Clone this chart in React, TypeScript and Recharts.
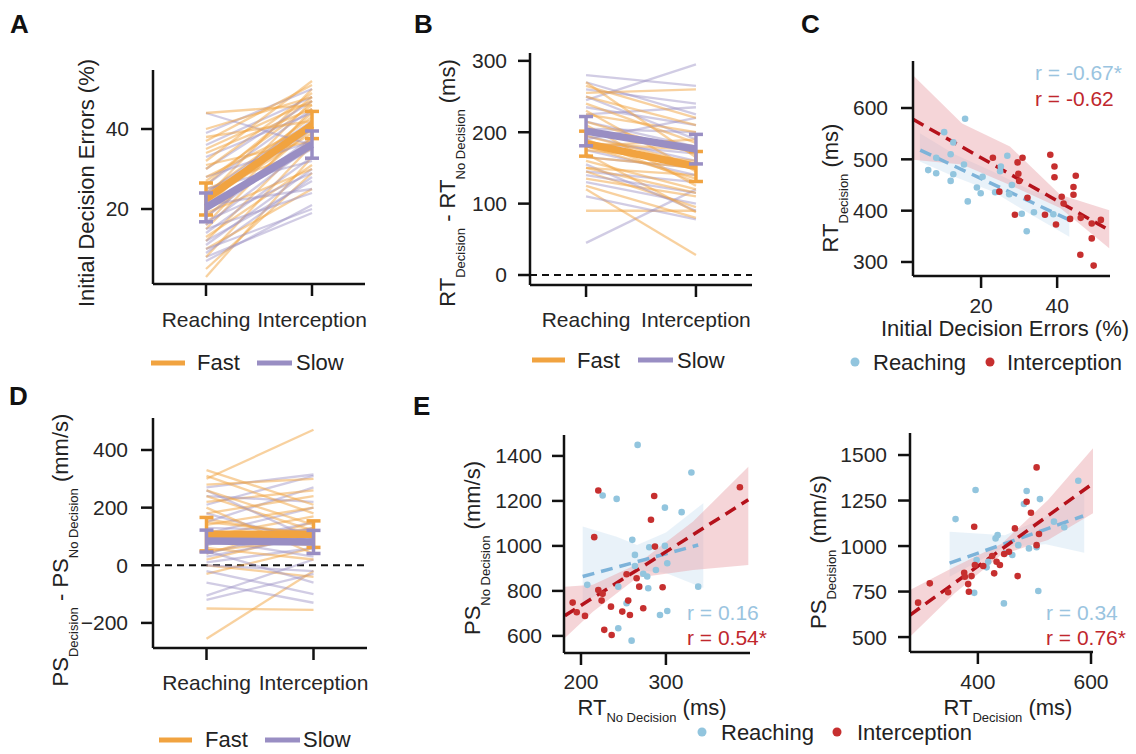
import React from 'react';
import { ComposedChart, Line, XAxis, YAxis, ErrorBar, Scatter, Area, ReferenceLine } from 'recharts';

const FONT = '"Liberation Sans", Arial, Helvetica, sans-serif';
const ORANGE = '#f1a340';
const PURPLE = '#998ec3';
const BLUE_DOT = '#92c5de';
const RED_DOT = '#c62f2f';
const BLUE_LINE = '#7db3d9';
const RED_LINE = '#b5121b';
const TXT = '#222222';

const groups = ['Reaching', 'Interception'];

// ---------- Panel A: initial decision errors (%) ----------
const aFastReach = [3, 5, 8, 10, 12, 13, 15, 16, 18, 19, 20, 21, 22, 23, 24, 25, 26, 27, 28, 30, 31, 32, 34, 35, 37, 38, 40, 44];
const aFastInter = [33, 29, 36, 25, 38, 31, 42, 45, 40, 30, 47, 44, 39, 50, 43, 35, 48, 46, 41, 49, 37, 52, 45, 47, 51, 42, 48, 46];
const aSlowReach = [7, 8, 9, 10, 11, 12, 14, 15, 16, 17, 18, 20, 21, 22, 24, 25, 26, 28, 30, 33, 36, 39, 44];
const aSlowInter = [21, 19, 28, 20, 30, 27, 33, 24, 36, 29, 38, 35, 25, 40, 42, 32, 45, 37, 47, 44, 48, 50, 36];
const aFastMean = [22.5, 41];
const aFastErr = [4, 3.4];
const aSlowMean = [20.4, 36.1];
const aSlowErr = [3.6, 3.4];

// ---------- Panel B: RT decision - RT no decision (ms) ----------
const bFastReach = [90, 120, 125, 135, 145, 150, 160, 165, 170, 175, 180, 185, 190, 195, 200, 210, 215, 225, 230, 240, 250, 255, 265, 270, 150, 180];
const bFastInter = [90, 28, 80, 110, 95, 140, 120, 150, 88, 160, 135, 175, 130, 155, 180, 125, 170, 200, 145, 185, 210, 260, 220, 165, 115, 190];
const bSlowReach = [45, 110, 130, 145, 155, 165, 175, 185, 195, 205, 215, 225, 235, 245, 250, 260, 270, 280, 140, 190];
const bSlowInter = [120, 78, 100, 130, 90, 150, 140, 170, 160, 200, 180, 235, 210, 295, 190, 240, 225, 265, 115, 220];
const bFastMean = [184, 152];
const bFastErr = [17.5, 21];
const bSlowMean = [201.5, 176.3];
const bSlowErr = [20.5, 20.7];

// ---------- Panel D: PS decision - PS no decision (mm/s) ----------
const dFastReach = [-255, -150, -30, 0, 20, 40, 60, 80, 100, 120, 140, 160, 180, 200, 220, 240, 260, 280, 300, 310, 330, 50, 90, 150];
const dFastInter = [-20, -155, 60, -40, 110, 150, 20, 130, 170, 80, 200, 100, 240, 40, 260, 120, 140, 300, 470, 180, 210, 90, 70, 110];
const dSlowReach = [-120, -105, -60, -20, 10, 30, 50, 70, 90, 110, 130, 150, 180, 210, 240, 260, 270, 0, 40];
const dSlowInter = [-30, 20, -130, -100, 60, 100, -60, 150, 30, 200, 120, 270, 80, 310, 220, 90, 315, -20, 130];
const dFastMean = [108, 108];
const dFastErr = [58, 46];
const dSlowMean = [84, 81];
const dSlowErr = [38, 40];

// ---------- Panel C: RT decision vs initial decision errors ----------
const cBlueX = [6.1, 8.2, 8.2, 10.3, 12.0, 12.7, 12.0, 12.7, 15.8, 15.5, 16.5, 18.9, 19.9, 20.4, 23.7, 25.0, 25.2, 26.9, 27.4, 28.1, 30.7, 32.0, 33.9, 39.0];
const cBlueY = [479, 473, 503, 553, 510, 471, 458, 533, 579, 490, 418, 445, 434, 466, 436, 477, 486, 507, 432, 450, 394, 360, 397, 393];
const cRedX = [23.1, 24.8, 29.6, 30.9, 29.8, 30.0, 28.9, 32.2, 36.8, 38.2, 39.3, 39.3, 39.7, 41.2, 41.7, 43.4, 44.9, 44.3, 44.3, 46.2, 46.1, 49.1, 49.1, 49.6, 51.5];
const cRedY = [503, 437, 494, 503, 472, 458, 392, 425, 392, 509, 486, 465, 373, 427, 414, 384, 468, 446, 431, 386, 314, 375, 346, 293, 382];
const cBlueBandX = [3.9, 13, 23.2, 33, 43.2];
const cBlueBandLo = [496, 466, 437, 393, 349];
const cBlueBandHi = [551, 510, 476, 440, 421];
const cRedBandX = [2.1, 15, 27.6, 40.8, 53.7];
const cRedBandLo = [499, 490, 450, 405, 327];
const cRedBandHi = [664, 570, 525, 431, 401];
const cBlueFitX = [4, 43.2];
const cBlueFitY = [518, 382];
const cRedFitX = [2.1, 53.7];
const cRedFitY = [578, 362];

// ---------- Panel E left: PS no decision vs RT no decision ----------
const eLBlueX = [266.7, 330, 225.5, 242, 298.8, 318.5, 260.4, 263.5, 280.4, 298.8, 301.6, 278, 273.3, 279.2, 207.4, 243.9, 253.7, 293, 301.6, 338, 243.9, 259.6, 263.5, 288.2];
const eLBlueY = [1449, 1326, 1224, 1209, 1170, 1150, 1027, 960, 994, 1000, 923, 864, 876, 812, 827, 819, 745, 693, 711, 819, 634, 579, 911, 893];
const eLRedX = [220.4, 215.6, 286.2, 282.4, 287.1, 190.2, 195, 204.7, 220.4, 224.3, 225.5, 235.3, 248.6, 257.6, 255.6, 268.6, 265.5, 273.3, 296.1, 253.7, 227.4, 236.1, 387.1];
const eLRedY = [1246, 1039, 1222, 1116, 997, 748, 705, 689, 804, 757, 787, 730, 708, 693, 757, 819, 856, 723, 816, 874, 627, 604, 1261];
const eLBlueBandX = [202, 242, 266, 300, 344];
const eLBlueBandLo = [745, 834, 893, 880, 813];
const eLBlueBandHi = [1086, 1041, 1004, 1060, 1190];
const eLRedBandX = [181, 214, 266, 332, 397];
const eLRedBandLo = [591, 707, 858, 893, 915];
const eLRedBandHi = [819, 827, 918, 1108, 1352];
const eLBlueFitX = [202, 338];
const eLBlueFitY = [864, 1004];
const eLRedFitX = [181, 397];
const eLRedFitY = [690, 1205];

// ---------- Panel E right: PS decision vs RT decision ----------
const eRBlueX = [360.5, 395.9, 393.5, 446, 397.7, 415.4, 431.3, 434.9, 447.8, 460.8, 471.4, 481.4, 486.2, 490.3, 503.8, 509.7, 506.8, 534.5, 552.7, 577.5, 418.2];
const eRBlueY = [1148, 1308, 743, 685, 923, 883, 1042, 1060, 960, 951, 1005, 1231, 1302, 987, 993, 1258, 753, 1134, 1103, 1359, 914];
const eRRedX = [294.3, 315, 347.4, 375.8, 376.9, 382.8, 384.1, 388.8, 393.5, 409.4, 425.3, 428.8, 433, 438.9, 446.5, 454.9, 465.5, 470.3, 486.2, 493.8, 503.8, 508, 503.8, 394.7];
const eRRedY = [689, 795, 746, 853, 831, 791, 749, 835, 1106, 890, 945, 850, 914, 896, 956, 969, 1097, 835, 1243, 1183, 1005, 1066, 1432, 896];
const eRBlueBandX = [350, 448, 520, 588];
const eRBlueBandLo = [831, 996, 1010, 963];
const eRBlueBandHi = [1079, 1060, 1160, 1298];
const eRRedBandX = [280, 359, 442, 524, 603.5];
const eRRedBandLo = [502, 741, 953, 1033, 1180];
const eRRedBandHi = [758, 886, 1013, 1253, 1537];
const eRBlueFitX = [350, 586];
const eRBlueFitY = [906, 1165];
const eRRedFitX = [280, 603.5];
const eRRedFitY = [621, 1344];

// ---------- shared styling ----------
const PL = 110, PT = 20, PR = 24, PB = 70;
const axisLine = { stroke: '#111', strokeWidth: 2.5 };
const tickLine = { stroke: '#111', strokeWidth: 2.5 };
const tickStyle = { fill: '#262626', fontSize: 21, fontFamily: FONT };
const minusFmt = (v: number) => (v < 0 ? '\u2212' + Math.abs(v) : String(v));

type Box = { x0: number; y0: number; x1: number; y1: number };

function Spaghetti(props: any) {
  const { box, xDomain, yDomain, yTicks, fR, fI, sR, sI, fM, fE, sM, sE, zero, xtm, ytm } = props;
  const rows = [0, 1].map((i) => {
    const r: any = { x: i };
    fR.forEach((v: number, k: number) => { r['f' + k] = i === 0 ? v : fI[k]; });
    sR.forEach((v: number, k: number) => { r['s' + k] = i === 0 ? v : sI[k]; });
    r.fm = fM[i]; r.fe = fE[i]; r.sm = sM[i]; r.se = sE[i];
    return r;
  });
  const n = Math.max(fR.length, sR.length);
  const lines: any[] = [];
  for (let k = 0; k < n; k++) {
    if (k < fR.length) lines.push(<Line key={'f' + k} dataKey={'f' + k} stroke={ORANGE} strokeOpacity={0.5} strokeWidth={2.3} dot={false} activeDot={false} isAnimationActive={false} />);
    if (k < sR.length) lines.push(<Line key={'s' + k} dataKey={'s' + k} stroke={PURPLE} strokeOpacity={0.45} strokeWidth={2.3} dot={false} activeDot={false} isAnimationActive={false} />);
  }
  const b: Box = box;
  return (
    <div style={{ position: 'absolute', left: b.x0 - PL, top: b.y0 - PT }}>
      <ComposedChart width={b.x1 - b.x0 + PL + PR} height={b.y1 - b.y0 + PT + PB} data={rows} margin={{ top: PT, right: PR, left: 0, bottom: 0 }}>
        <XAxis type="number" dataKey="x" domain={xDomain} ticks={[0, 1]} tickFormatter={(v: number) => groups[v]} interval={0} allowDataOverflow height={PB} axisLine={axisLine} tickLine={tickLine} tickSize={12} tickMargin={xtm} tick={tickStyle} />
        <YAxis type="number" domain={yDomain} ticks={yTicks} interval={0} allowDataOverflow width={PL} axisLine={axisLine} tickLine={tickLine} tickSize={12} tickMargin={ytm} tick={tickStyle} tickFormatter={minusFmt} />
        {zero ? <ReferenceLine y={0} stroke="#111" strokeWidth={2} strokeDasharray="7 5" /> : null}
        {lines}
        <Line dataKey="fm" stroke={ORANGE} strokeWidth={7.5} dot={false} activeDot={false} isAnimationActive={false}>
          <ErrorBar dataKey="fe" width={7} strokeWidth={3.5} stroke={ORANGE} direction="y" />
        </Line>
        <Line dataKey="sm" stroke={PURPLE} strokeWidth={7.5} dot={false} activeDot={false} isAnimationActive={false}>
          <ErrorBar dataKey="se" width={7} strokeWidth={3.5} stroke={PURPLE} direction="y" />
        </Line>
      </ComposedChart>
    </div>
  );
}

const dotShape = (c: string) => (p: any) => <circle cx={p.cx} cy={p.cy} r={3.3} fill={c} />;
const pts = (xs: number[], ys: number[]) => xs.map((x, i) => ({ x, y: ys[i] }));
const band = (xs: number[], lo: number[], hi: number[]) => xs.map((x, i) => ({ x, band: [lo[i], hi[i]] }));

function RegPanel(props: any) {
  const { box, xDomain, yDomain, xTicks, yTicks, bX, bY, rX, rY, bBX, bBL, bBH, rBX, rBL, rBH, bFX, bFY, rFX, rFY, xtm, ytm } = props;
  const b: Box = box;
  return (
    <div style={{ position: 'absolute', left: b.x0 - PL, top: b.y0 - PT }}>
      <ComposedChart width={b.x1 - b.x0 + PL + PR} height={b.y1 - b.y0 + PT + PB} margin={{ top: PT, right: PR, left: 0, bottom: 0 }}>
        <XAxis type="number" dataKey="x" domain={xDomain} ticks={xTicks} interval={0} allowDataOverflow height={PB} axisLine={axisLine} tickLine={tickLine} tickSize={12} tickMargin={xtm} tick={tickStyle} />
        <YAxis type="number" dataKey="y" domain={yDomain} ticks={yTicks} interval={0} allowDataOverflow width={PL} axisLine={axisLine} tickLine={tickLine} tickSize={12} tickMargin={ytm} tick={tickStyle} />
        <Scatter data={pts(bX, bY)} fill={BLUE_DOT} shape={dotShape(BLUE_DOT)} isAnimationActive={false} />
        <Area data={band(bBX, bBL, bBH)} dataKey="band" type="linear" stroke="none" fill="#cfe2f2" fillOpacity={0.45} isAnimationActive={false} />
        <Line data={pts(bFX, bFY)} dataKey="y" stroke={BLUE_LINE} strokeWidth={3.5} strokeDasharray="12 7" dot={false} activeDot={false} isAnimationActive={false} />
        <Scatter data={pts(rX, rY)} fill={RED_DOT} shape={dotShape(RED_DOT)} isAnimationActive={false} />
        <Area data={band(rBX, rBL, rBH)} dataKey="band" type="linear" stroke="none" fill="#e8a2a8" fillOpacity={0.45} isAnimationActive={false} />
        <Line data={pts(rFX, rFY)} dataKey="y" stroke={RED_LINE} strokeWidth={3.5} strokeDasharray="12 7" dot={false} activeDot={false} isAnimationActive={false} />
      </ComposedChart>
    </div>
  );
}

function VLabel({ bx, cy, parts }: { bx: number; cy: number; parts: [string, boolean][] }) {
  return (
    <text transform={`translate(${bx},${cy}) rotate(-90)`} textAnchor="middle" fontFamily={FONT} fontSize={22} fill={TXT} style={{ whiteSpace: 'pre' }}>
      {parts.map(([s, sub], i) => (
        <tspan key={i} fontSize={sub ? 13 : 22} dy={sub ? 10 : i > 0 && parts[i - 1][1] ? -10 : 0}>{s}</tspan>
      ))}
    </text>
  );
}

function HLabel({ cx, by, parts }: { cx: number; by: number; parts: [string, boolean][] }) {
  return (
    <text x={cx} y={by} textAnchor="middle" fontFamily={FONT} fontSize={22} fill={TXT} style={{ whiteSpace: 'pre' }}>
      {parts.map(([s, sub], i) => (
        <tspan key={i} fontSize={sub ? 13 : 22} dy={sub ? 7 : i > 0 && parts[i - 1][1] ? -7 : 0}>{s}</tspan>
      ))}
    </text>
  );
}

const T = ({ x, y, children, size = 22, fill = TXT, weight = 'normal' }: any) => (
  <text x={x} y={y} fontSize={size} fontFamily={FONT} fill={fill} fontWeight={weight} style={{ whiteSpace: 'pre' }}>{children}</text>
);

function LineLegend({ x1, x2, x3, x4, tf, ts, y, by }: any) {
  return (
    <g>
      <line x1={x1} x2={x2} y1={y} y2={y} stroke={ORANGE} strokeWidth={5} />
      <T x={tf} y={by}>Fast</T>
      <line x1={x3} x2={x4} y1={y} y2={y} stroke={PURPLE} strokeWidth={5} />
      <T x={ts} y={by}>Slow</T>
    </g>
  );
}

function DotLegend({ bx, tb, rx, tr, y, by }: any) {
  return (
    <g>
      <circle cx={bx} cy={y} r={4.5} fill={BLUE_DOT} />
      <T x={tb} y={by}>Reaching</T>
      <circle cx={rx} cy={y} r={4.5} fill={RED_DOT} />
      <T x={tr} y={by}>Interception</T>
    </g>
  );
}

export default function App() {
  return (
    <div style={{ position: 'absolute', left: 0, top: 0, width: 1136, height: 754, background: '#fff', overflow: 'hidden', fontFamily: FONT }}>
      <Spaghetti box={{ x0: 153, y0: 70, x1: 365, y1: 284 }} xDomain={[-0.5, 1.5]} yDomain={[1.25, 54.75]} yTicks={[20, 40]}
        fR={aFastReach} fI={aFastInter} sR={aSlowReach} sI={aSlowInter} fM={aFastMean} fE={aFastErr} sM={aSlowMean} sE={aSlowErr} xtm={16} ytm={12} />
      <Spaghetti box={{ x0: 530, y0: 53, x1: 752, y1: 285 }} xDomain={[-0.51, 1.51]} yDomain={[-14, 311]} yTicks={[0, 100, 200, 300]}
        fR={bFastReach} fI={bFastInter} sR={bSlowReach} sI={bSlowInter} fM={bFastMean} fE={bFastErr} sM={bSlowMean} sE={bSlowErr} zero xtm={15} ytm={11} />
      <Spaghetti box={{ x0: 153, y0: 418, x1: 367, y1: 648 }} xDomain={[-0.5, 1.5]} yDomain={[-287, 511]} yTicks={[-200, 0, 200, 400]}
        fR={dFastReach} fI={dFastInter} sR={dSlowReach} sI={dSlowInter} fM={dFastMean} fE={dFastErr} sM={dSlowMean} sE={dSlowErr} zero xtm={15} ytm={13} />
      <RegPanel box={{ x0: 913, y0: 61, x1: 1110, y1: 276 }} xDomain={[2.1, 53.9]} yDomain={[272.7, 691.6]} xTicks={[20, 40]} yTicks={[300, 400, 500, 600]}
        bX={cBlueX} bY={cBlueY} rX={cRedX} rY={cRedY} bBX={cBlueBandX} bBL={cBlueBandLo} bBH={cBlueBandHi} rBX={cRedBandX} rBL={cRedBandLo} rBH={cRedBandHi}
        bFX={cBlueFitX} bFY={cBlueFitY} rFX={cRedFitX} rFY={cRedFitY} xtm={10} ytm={13} />
      <RegPanel box={{ x0: 564, y0: 435, x1: 750, y1: 653 }} xDomain={[180, 399]} yDomain={[524, 1493]} xTicks={[200, 300]} yTicks={[600, 800, 1000, 1200, 1400]}
        bX={eLBlueX} bY={eLBlueY} rX={eLRedX} rY={eLRedY} bBX={eLBlueBandX} bBL={eLBlueBandLo} bBH={eLBlueBandHi} rBX={eLRedBandX} rBL={eLRedBandLo} rBH={eLRedBandHi}
        bFX={eLBlueFitX} bFY={eLBlueFitY} rFX={eLRedFitX} rFY={eLRedFitY} xtm={9.5} ytm={10} />
      <RegPanel box={{ x0: 910, y0: 433, x1: 1093, y1: 652 }} xDomain={[280, 603.5]} yDomain={[418, 1621]} xTicks={[400, 600]} yTicks={[500, 750, 1000, 1250, 1500]}
        bX={eRBlueX} bY={eRBlueY} rX={eRRedX} rY={eRRedY} bBX={eRBlueBandX} bBL={eRBlueBandLo} bBH={eRBlueBandHi} rBX={eRRedBandX} rBL={eRRedBandLo} rBH={eRRedBandHi}
        bFX={eRBlueFitX} bFY={eRBlueFitY} rFX={eRRedFitX} rFY={eRRedFitY} xtm={10.5} ytm={11} />

      <svg width={1136} height={754} style={{ position: 'absolute', left: 0, top: 0, pointerEvents: 'none' }}>
        <T x={10} y={33} size={26} weight="bold" fill="#111">A</T>
        <T x={414} y={33} size={26} weight="bold" fill="#111">B</T>
        <T x={801} y={33} size={26} weight="bold" fill="#111">C</T>
        <T x={9} y={405} size={26} weight="bold" fill="#111">D</T>
        <T x={413} y={415} size={26} weight="bold" fill="#111">E</T>

        <VLabel bx={94} cy={183} parts={[['Initial Decision Errors (%)', false]]} />
        <VLabel bx={455} cy={183} parts={[['RT', false], ['Decision', true], [' - RT', false], ['No Decision', true], [' (ms)', false]]} />
        <VLabel bx={838} cy={188} parts={[['RT', false], ['Decision', true], [' (ms)', false]]} />
        <VLabel bx={68} cy={550} parts={[['PS', false], ['Decision', true], [' - PS', false], ['No Decision', true], [' (mm/s)', false]]} />
        <VLabel bx={480} cy={548} parts={[['PS', false], ['No Decision', true], [' (mm/s)', false]]} />
        <VLabel bx={826} cy={552} parts={[['PS', false], ['Decision', true], [' (mm/s)', false]]} />

        <HLabel cx={1005} by={336} parts={[['Initial Decision Errors (%)', false]]} />
        <HLabel cx={652} by={715} parts={[['RT', false], ['No Decision', true], [' (ms)', false]]} />
        <HLabel cx={1008} by={715} parts={[['RT', false], ['Decision', true], [' (ms)', false]]} />

        <T x={1035} y={80} size={21} fill="#9ac4e0">r = -0.67*</T>
        <T x={1035} y={106} size={21} fill="#c0272d">r = -0.62</T>
        <T x={687} y={620} size={21} fill="#9ac4e0">r = 0.16</T>
        <T x={687} y={645} size={21} fill="#c0272d">r = 0.54*</T>
        <T x={1046} y={620} size={21} fill="#9ac4e0">r = 0.34</T>
        <T x={1046} y={645} size={21} fill="#c0272d">r = 0.76*</T>

        <LineLegend x1={151} x2={185} x3={257} x4={292} tf={197} ts={296} y={363} by={370} />
        <LineLegend x1={532} x2={565} x3={638} x4={673} tf={577} ts={677} y={360} by={368} />
        <LineLegend x1={159} x2={192} x3={265} x4={300} tf={205} ts={303} y={740} by={747} />
        <DotLegend bx={855} tb={873} rx={990} tr={1007} y={362} by={370} />
        <DotLegend bx={702} tb={721} rx={837} tr={857} y={732} by={740} />
      </svg>
    </div>
  );
}
